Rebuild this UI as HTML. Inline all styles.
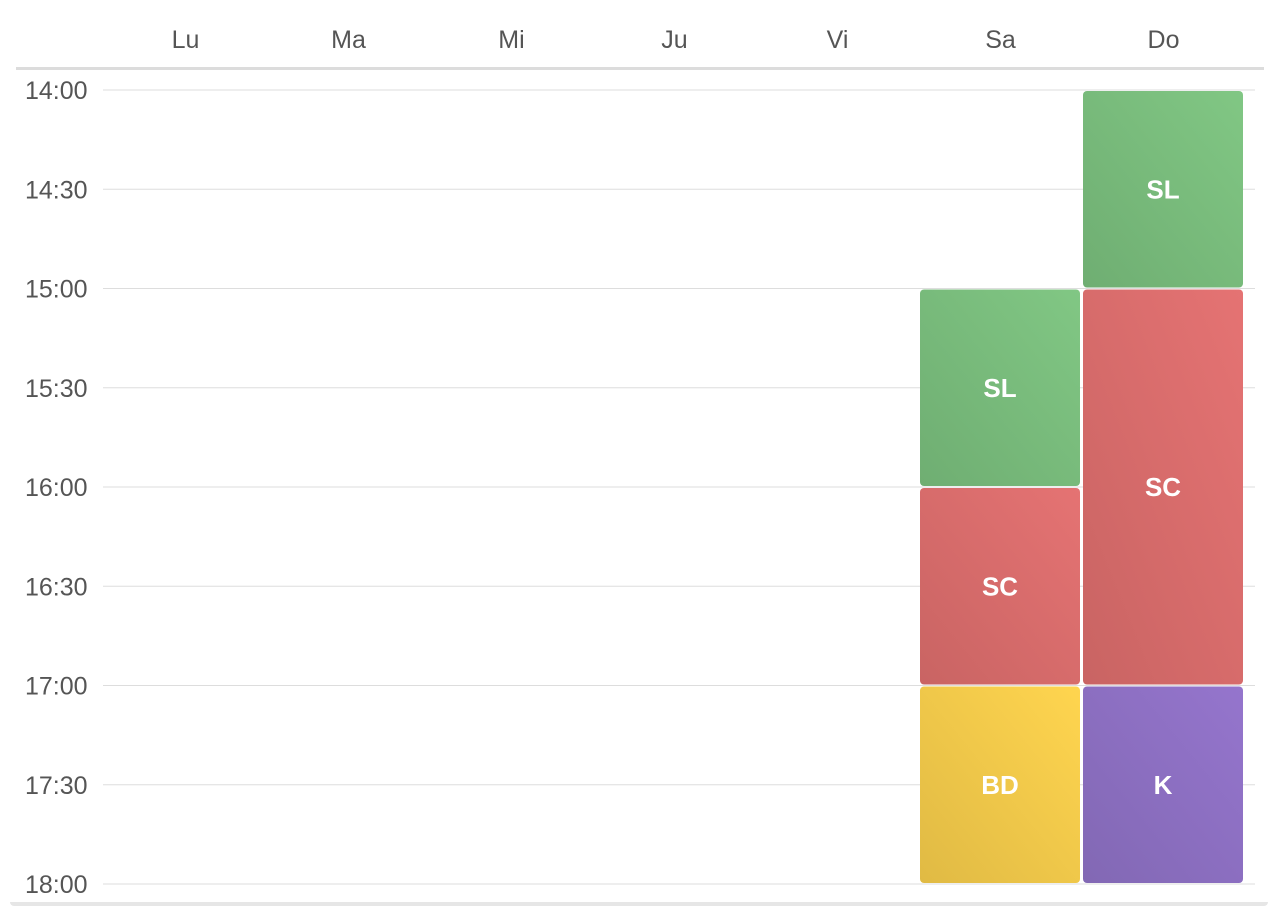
<!DOCTYPE html>
<html><head><meta charset="utf-8"><style>
body{margin:0;background:#fff;width:1280px;height:914px;overflow:hidden;font-family:"Liberation Sans",sans-serif}
svg{position:absolute;left:0;top:0}
</style></head><body>
<div style="position:absolute;left:10px;top:902px;width:1258px;height:4px;background:#e6e6e6;border-radius:0 0 4px 4px"></div>
<svg id="chart" width="1280" height="914" xmlns="http://www.w3.org/2000/svg">
<defs>
<linearGradient id="g-SL" x1="1" y1="0" x2="0" y2="1"><stop offset="0" stop-color="#81c784"/><stop offset="1" stop-color="#6fae72"/></linearGradient>
<linearGradient id="g-SC" x1="1" y1="0" x2="0" y2="1"><stop offset="0" stop-color="#e57373"/><stop offset="1" stop-color="#c96463"/></linearGradient>
<linearGradient id="g-BD" x1="1" y1="0" x2="0" y2="1"><stop offset="0" stop-color="#ffd54f"/><stop offset="1" stop-color="#e0ba44"/></linearGradient>
<linearGradient id="g-K" x1="1" y1="0" x2="0" y2="1"><stop offset="0" stop-color="#9575cd"/><stop offset="1" stop-color="#8268b4"/></linearGradient>
</defs>
<rect x="16" y="67" width="1248" height="3" fill="#dcdcdc"/>
</svg>
<script>
const days=["Lu","Ma","Mi","Ju","Vi","Sa","Do"];
const timeTicks=["14:00","14:30","15:00","15:30","16:00","16:30","17:00","17:30","18:00"];
const eventDays=[5,5,5,6,6,6];
const eventStarts=[15,16,17,14,15,17];
const eventEnds=[16,17,18,15,17,18];
const eventLabels=["SL","SC","BD","SL","SC","K"];
const svg=document.getElementById('chart');
const NS="http://www.w3.org/2000/svg";
const x0=104,colW=163,y0=90,hourH=198.5,startH=14;
const xCol=i=>x0+i*colW;
const yT=h=>y0+(h-startH)*hourH;
function mk(t,a){const e=document.createElementNS(NS,t);for(const k in a)e.setAttribute(k,a[k]);svg.appendChild(e);return e;}
days.forEach((d,i)=>{const t=mk('text',{x:xCol(i)+colW/2,y:48,'text-anchor':'middle','font-size':25,fill:'#555'});t.textContent=d;

});
timeTicks.forEach((s,i)=>{const y=yT(startH+i*0.5);
const l=mk('line',{x1:103,x2:1255,y1:y,y2:y,stroke:'#dddddd','stroke-width':1});


const t=mk('text',{x:25,y:y+9,'font-size':25,fill:'#555'});t.textContent=s;

});
eventLabels.forEach((lab,i)=>{const x=xCol(eventDays[i])+1,y1=yT(eventStarts[i])+1,y2=yT(eventEnds[i])-1;
const r=mk('rect',{x:x,y:y1,width:colW-3,height:y2-y1,rx:4,fill:'url(#g-'+lab+')'});


const t=mk('text',{x:x+(colW-3)/2,y:(y1+y2)/2+9,'text-anchor':'middle','font-size':26,'font-weight':'bold',fill:'#fff'});t.textContent=lab;

});
</script>
</body></html>
